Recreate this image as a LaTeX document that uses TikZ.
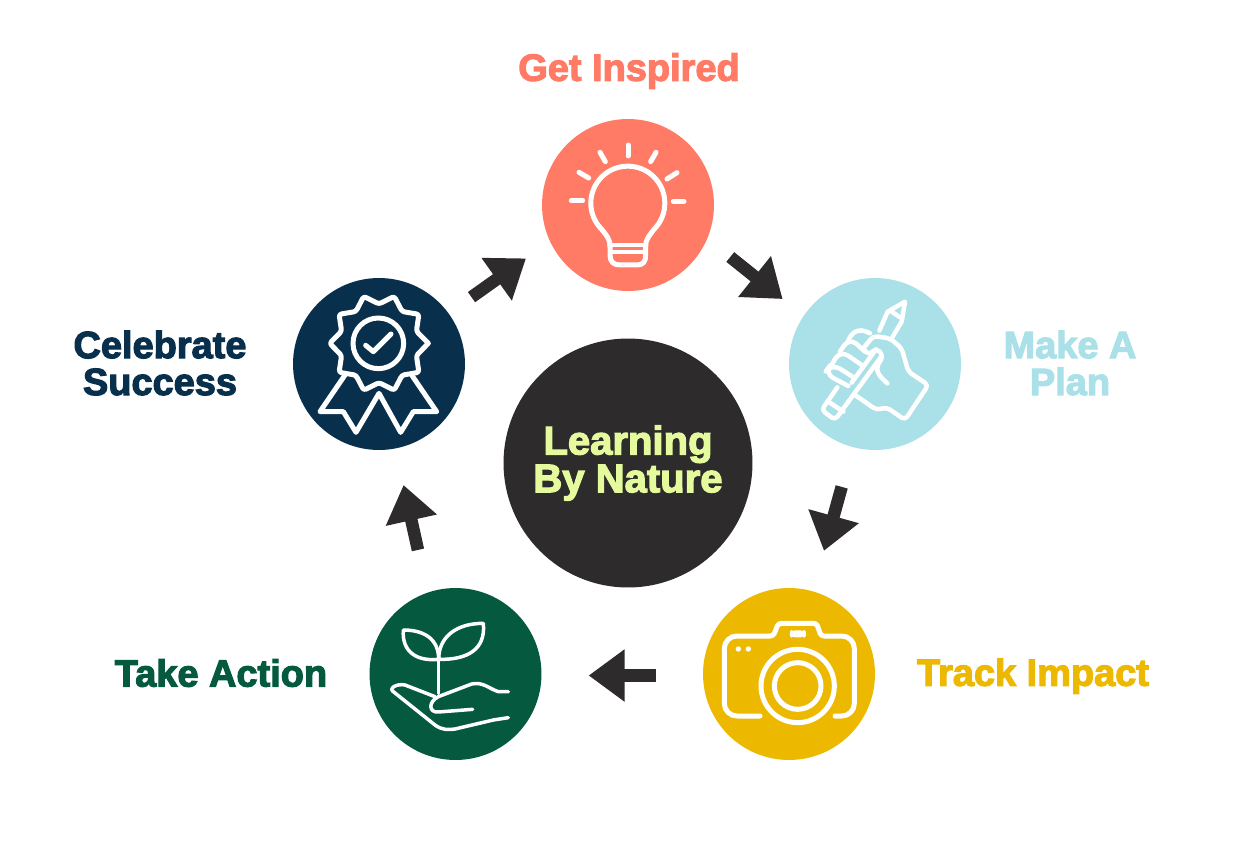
\documentclass[tikz,border=0pt]{standalone}
\usepackage{fontspec}
\setmainfont{Liberation Sans}[UprightFont=* Bold,FakeBold=3]
\usetikzlibrary{arrows.meta, positioning, calc}
\definecolor{coral}{HTML}{FF7B66}
\definecolor{skyblue}{HTML}{AAE0E8}
\definecolor{amber}{HTML}{EDB900}
\definecolor{forest}{HTML}{04593F}
\definecolor{navy}{HTML}{08304D}
\definecolor{coal}{HTML}{2D2B2B}
\definecolor{lime}{HTML}{E4FA9C}
\tikzset{
  stepdisc/.style={circle, fill=#1, minimum size=3.44cm, inner sep=0pt},
  steplabel/.style={text=#1, font=\fontsize{21.6}{21}\selectfont, align=center},
  flow/.style={draw=coal, line width=.25cm, -{Triangle[length=.72cm, width=1cm]}},
  icon/.style={draw=white, line width=.1cm, line cap=round, line join=round},
}
\begin{document}
\begin{tikzpicture}[x=.02cm, y=-.02cm]
  \useasboundingbox (0,0) rectangle (1233,865);
  \node[circle, fill=coal, minimum size=4.98cm, inner sep=0pt, text=lime, align=center,
        font=\fontsize{22.8}{19.5}\selectfont] (nature) at (628,463) {Learning\\By Nature};
  \node[stepdisc=coral] (inspired) at (628,205) {};
  \node[stepdisc=skyblue] (plan) at (875,364) {};
  \node[stepdisc=amber] (track) at (789,674) {};
  \node[stepdisc=forest] (action) at (455.5,674) {};
  \node[stepdisc=navy] (celebrate) at (379,364) {};
  \node[steplabel=coral] (inspiredtext) at (629,71) {Get Inspired};
  \node[steplabel=skyblue] (plantext) at (1070,363) {Make A\\Plan};
  \node[steplabel=amber] (tracktext) at (1033,676) {Track Impact};
  \node[steplabel=forest] (actiontext) at (221,673) {Take Action};
  \node[steplabel=navy] (celebratetext) at (160,363) {Celebrate\\Success};
  \draw[flow, shorten <=.584cm, shorten >=.534cm] (inspired.-23.8) -- (plan.146);
  \draw[flow, shorten <=.82cm, shorten >=.834cm] (plan.255.8) -- (track.74.8);
  \draw[flow, shorten <=.934cm, shorten >=.936cm] (track.181.3) -- (action.-1.3);
  \draw[flow, shorten <=.87cm, shorten >=.744cm] (action.109.2) -- (celebrate.-79.1);
  \draw[flow, shorten <=.556cm, shorten >=.584cm] (celebrate.36.1) -- (inspired.205.1);
  % bulb
  \begin{scope}[shift={(530,110)}, x=.00667cm, y=-.00667cm]
    \draw[icon] (240,410) .. controls (240,385) and (228,375) .. (215,358)
      arc[start angle=135, end angle=405, radius=111]
      .. controls (360,375) and (347,385) .. (347,410);
    \draw[icon] (240,405) -- (240,435) .. controls (240,455) and (250,465) .. (270,465)
      -- (320,465) .. controls (340,465) and (347,455) .. (347,435) -- (347,405);
    \draw[icon, line width=.08cm] (240,405) -- (347,405);
    \draw[icon, line width=.08cm] (240,427) -- (347,427);
    \draw[icon] (294,105) -- (294,138);
    \draw[icon] (210,127) -- (226,155);
    \draw[icon] (378,127) -- (362,155);
    \draw[icon] (147,187) -- (176,204);
    \draw[icon] (441,188) -- (411,207);
    \draw[icon] (124,272) -- (158,272);
    \draw[icon] (430,274) -- (462,274);
  \end{scope}
  % hand and pencil
  \begin{scope}[shift={(780,270)}, x=.00667cm, y=-.00667cm, icon/.append style={line width=.09cm}]
    \draw[icon] (298,182) -- (323,125) -- (375,95) -- (365,155) -- (338,200);
    \draw[icon] (335,125) -- (360,142);
    \draw[icon, rounded corners=.08cm] (172,352) -- (125,420) -- (165,450) -- (305,258);
    \draw[icon] (215,338) -- (288,238);
    \draw[icon] (145,395) -- (190,425);
    \draw[icon, rounded corners=.2cm] (205,348) -- (133,310) -- (155,280) -- (225,325);
    \draw[icon, rounded corners=.2cm] (155,285) -- (180,240) -- (245,285);
    \draw[icon, rounded corners=.2cm] (180,245) -- (208,202) -- (255,245);
    \draw[icon, rounded corners=.2cm] (205,210) -- (228,172) -- (270,190);
    \draw[icon, rounded corners=.08cm] (250,235) -- (280,198) -- (330,205) -- (365,235)
      -- (385,305) -- (445,345) -- (375,450) -- (320,412) -- (290,420) -- (225,375);
    \draw[icon, rounded corners=.08cm] (250,235) -- (265,255) -- (290,235) -- (310,258)
      -- (290,290) .. controls (295,315) and (305,325) .. (322,340);
  \end{scope}
  % camera
  \begin{scope}[shift={(695,580)}, x=.00667cm, y=-.00667cm]
    \draw[icon, rounded corners=.25cm] (195,408) -- (88,408) -- (88,168)
      [rounded corners=.06cm] -- (235,168) -- (250,130) -- (365,130) -- (378,168)
      [rounded corners=.25cm] -- (478,168) -- (478,408) -- (420,408);
    \draw[icon] (308,318) circle[radius=110];
    \draw[icon] (308,318) circle[radius=70];
    \draw[icon, line width=.07cm, rounded corners=.08cm] (290,156) rectangle (327,167);
    \fill[white] (130,207) circle[radius=8];
    \fill[white] (160,207) circle[radius=8];
  \end{scope}
  % seedling
  \begin{scope}[shift={(360,580)}, x=.00667cm, y=-.00667cm, icon/.append style={line width=.07cm}]
    \draw[icon] (130,150) .. controls (190,150) and (236,175) .. (236,238)
      .. controls (170,245) and (125,215) .. (130,150);
    \draw[icon] (370,130) .. controls (290,130) and (236,170) .. (236,238)
      .. controls (320,240) and (378,210) .. (370,130);
    \draw[icon] (236,238) -- (236,340);
    \draw[icon] (445,335) -- (415,335) .. controls (385,325) and (370,305) .. (335,312)
      -- (235,350) .. controls (205,365) and (205,398) .. (235,396) -- (338,388);
    \draw[icon] (225,350) -- (135,315) .. controls (110,310) and (85,325) .. (100,335)
      -- (225,435) .. controls (245,450) and (265,450) .. (285,447) -- (400,420) -- (445,413);
  \end{scope}
  % rosette
  \begin{scope}[shift={(285,270)}, x=.00667cm, y=-.00667cm]
    \draw[icon, rounded corners=.05cm] ($(282,220)+(0:148)$)
      \foreach \a in {0,36,...,324} { -- ($(282,220)+({\a+18}:118)$) -- ($(282,220)+({\a+36}:148)$) };
    \draw[icon] (280,220) circle[radius=76];
    \draw[icon] (242,226) -- (265,245) -- (318,192);
    \draw[icon] (180,315) -- (105,425) -- (175,425) -- (213,487) -- (282,370) -- (347,487)
      -- (385,425) -- (455,425) -- (380,315);
  \end{scope}
\end{tikzpicture}
\end{document}
